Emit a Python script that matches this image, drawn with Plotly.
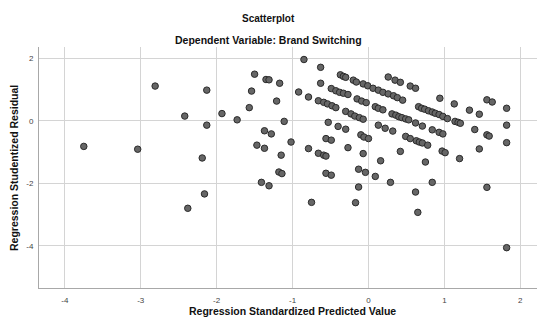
import plotly.graph_objects as go

# Regression standardized predicted value (x) and studentized residual (y)
pred = [
    -2.81, -2.13, -2.42, -2.13, -3.75, -3.04, -2.19, -2.16, -2.38,
    -0.85, -0.63, -1.50, -1.35, -1.31, -1.17, -0.63, -1.54, -0.92, -0.79, -1.21,
    -1.57, -1.93, -1.73, -1.11, -1.37, -1.28, -1.02, -1.47, -1.37, -1.15,
    -1.18, -1.14, -0.79, -0.66, -0.59, -0.56, -0.56, -0.49, -0.27, -0.07,
    -0.56, -0.49, -0.13, -0.04, 0.09, -1.41, -1.31, -0.75, -0.13, -0.17,
    -0.37, -0.33, -0.30, -0.20, -0.16, -0.49, -0.43, -0.38, -0.33, -0.27,
    -0.66, -0.59, -0.54, -0.48, -0.43, -0.30, -0.23, -0.18, -0.12, -0.07,
    -0.53, -0.40, -0.30, -0.10, -0.06, 0.00, 0.26, 0.35, 0.42, 0.55,
    0.62, -0.07, -0.01, 0.06, 0.13, 0.19, 0.26, 0.33, 0.38, 0.45,
    -0.15, -0.09, -0.03, 0.09, 0.13, 0.19, 0.31, 0.36, 0.40, 0.44,
    0.49, 0.53, 0.66, 0.70, 0.74, 0.79, 0.84, 0.88, 0.93, 0.98,
    1.04, 0.94, 1.13, 1.33, 1.46, 1.56, 1.63, 1.82, 1.14, 1.18,
    1.21, 1.40, 1.56, 1.59, 1.82, 1.82, 1.46, 1.20, 0.13, 0.22,
    0.32, 0.62, 0.71, 0.84, 0.93, 0.98, 0.49, 0.55, 0.63, 0.67,
    0.71, 0.78, 0.42, 0.97, 1.01, 0.16, 0.75, 0.29, 0.84, 0.62,
    1.56, 0.65, 1.82,
]
resid = [
    1.11, 0.98, 0.15, -0.14, -0.82, -0.91, -1.19, -2.34, -2.80,
    1.96, 1.71, 1.49, 1.32, 1.31, 1.20, 1.20, 0.95, 0.92, 0.76, 0.63,
    0.42, 0.23, 0.03, -0.02, -0.32, -0.42, -0.68, -0.78, -0.88, -1.10,
    -1.64, -1.69, -0.89, -1.04, -1.10, -1.13, -0.57, -0.62, -0.86, -1.05,
    -1.68, -1.74, -1.55, -1.65, -1.78, -1.97, -2.08, -2.61, -2.12, -2.62,
    1.47, 1.42, 1.39, 1.30, 1.24, 1.03, 0.96, 0.91, 0.88, 0.84,
    0.64, 0.59, 0.54, 0.48, 0.42, 0.30, 0.22, 0.15, 0.10, 0.05,
    -0.05, -0.18, -0.27, -0.45, -0.52, -0.57, 1.40, 1.30, 1.23, 1.11,
    1.04, 1.18, 1.12, 1.04, 0.98, 0.91, 0.86, 0.80, 0.74, 0.66,
    0.70, 0.63, 0.58, 0.45, 0.40, 0.35, 0.22, 0.18, 0.13, 0.10,
    0.06, 0.03, 0.45, 0.40, 0.37, 0.32, 0.28, 0.24, 0.20, 0.14,
    0.07, 0.72, 0.54, 0.34, 0.21, 0.67, 0.60, 0.40, -0.02, -0.05,
    -0.08, -0.28, -0.45, -0.49, -0.14, -0.70, -0.90, -1.21, -0.14, -0.24,
    -0.33, -0.07, -0.17, -0.29, -0.37, -0.42, -0.50, -0.57, -0.64, -0.68,
    -0.71, -0.78, -0.98, -0.97, -1.02, -1.28, -1.32, -1.97, -1.97, -2.28,
    -2.13, -2.93, -4.06,
]
x_ticks = [-4, -3, -2, -1, 0, 1, 2]
y_ticks = [2, 0, -2, -4]

title_text = "Scatterplot"
subtitle_text = "Dependent Variable: Brand Switching"
x_title = "Regression Standardized Predicted Value"
y_title = "Regression Studentized Residual"

FONT = "Liberation Sans, Arial, sans-serif"

fig = go.Figure()
fig.add_trace(go.Scatter(
    x=pred, y=resid, mode="markers",
    marker=dict(size=6.5, color="#666666", line=dict(color="#2b2b2b", width=1)),
    showlegend=False, hoverinfo="skip",
))

fig.update_layout(
    width=537, height=320,
    margin=dict(l=39, r=0, t=47, b=32),
    paper_bgcolor="white", plot_bgcolor="white",
    font=dict(family=FONT, color="#333333"),
    xaxis=dict(
        range=[-4.34, 2.22], tickvals=x_ticks, ticktext=[str(v) for v in x_ticks],
        showgrid=True, gridcolor="#d4d4d4", gridwidth=1,
        zeroline=False, showline=True, linecolor="#a8a8a8", linewidth=1,
        ticks="", tickfont=dict(size=8, color="#444444"), ticklabelstandoff=4,
        fixedrange=True,
    ),
    yaxis=dict(
        range=[-5.35, 2.36], tickvals=y_ticks, ticktext=[str(v) for v in y_ticks],
        showgrid=True, gridcolor="#d4d4d4", gridwidth=1,
        zeroline=False, showline=True, linecolor="#a8a8a8", linewidth=1,
        ticks="", tickfont=dict(size=8, color="#444444"), ticklabelstandoff=3,
        fixedrange=True,
    ),
    annotations=[
        dict(text="<b>" + title_text + "</b>", xref="paper", yref="paper",
             x=(268 - 39) / 498, y=(288 - 19) / 241, xanchor="center", yanchor="middle",
             showarrow=False, font=dict(size=10, color="#111111", family=FONT)),
        dict(text="<b>" + subtitle_text + "</b>", xref="paper", yref="paper",
             x=(268 - 39) / 498, y=(288 - 40) / 241, xanchor="center", yanchor="middle",
             showarrow=False, font=dict(size=10.5, color="#111111", family=FONT)),
        dict(text="<b>" + x_title + "</b>", xref="paper", yref="paper",
             x=(292 - 39) / 498, y=(288 - 311) / 241, xanchor="center", yanchor="middle",
             showarrow=False, font=dict(size=10.5, color="#111111", family=FONT)),
        dict(text="<b>" + y_title + "</b>", xref="paper", yref="paper",
             x=(14 - 39) / 498, y=(288 - 168) / 241, xanchor="center", yanchor="middle",
             textangle=-90, showarrow=False, font=dict(size=10.5, color="#111111", family=FONT)),
    ],
)

fig.write_html(
    "out.html",
    config={"displayModeBar": False},
    post_script="document.body.style.margin='0';document.body.style.overflow='hidden';",
)
